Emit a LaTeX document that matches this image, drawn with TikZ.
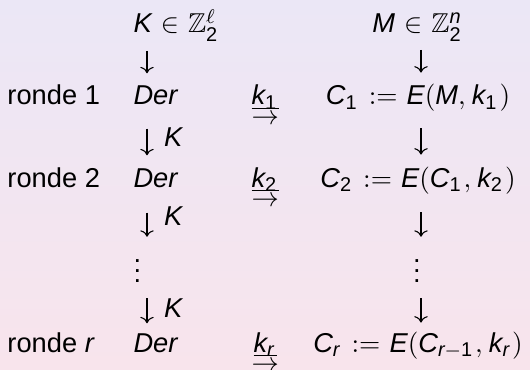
\documentclass[tikz,border=0pt,11pt]{standalone}
\usepackage{amsmath,amssymb}
\usepackage[no-math]{fontspec}
\setmainfont{Liberation Sans}
\newfontfamily\lsans{Liberation Sans}[NFSSFamily=lsans]
% sans letters and digits in maths, symbols stay CM
\DeclareSymbolFont{sfletters}{TU}{lsans}{m}{it}
\DeclareSymbolFont{sfdigits}{TU}{lsans}{m}{n}
\DeclareMathSymbol{C}{\mathalpha}{sfletters}{`C}
\DeclareMathSymbol{D}{\mathalpha}{sfletters}{`D}
\DeclareMathSymbol{E}{\mathalpha}{sfletters}{`E}
\DeclareMathSymbol{K}{\mathalpha}{sfletters}{`K}
\DeclareMathSymbol{M}{\mathalpha}{sfletters}{`M}
\DeclareMathSymbol{e}{\mathalpha}{sfletters}{`e}
\DeclareMathSymbol{k}{\mathalpha}{sfletters}{`k}
\DeclareMathSymbol{n}{\mathalpha}{sfletters}{`n}
\DeclareMathSymbol{r}{\mathalpha}{sfletters}{`r}
\DeclareMathSymbol{1}{\mathalpha}{sfdigits}{`1}
\DeclareMathSymbol{2}{\mathalpha}{sfdigits}{`2}
\usepackage{tikz}
\usetikzlibrary{arrows.meta}
\definecolor{bgtop}{RGB}{235,231,246}
\definecolor{bgbot}{RGB}{248,228,236}
% underlined round key with a small arrow below it
\newcommand{\keyarrow}[1]{\vtop{\baselineskip=8pt \lineskiplimit=-10pt
  \halign{\hfil##\hfil\cr $\underline{\smash[b]{k_{#1}}}$\cr $\rightarrow$\cr}}}

\begin{document}
\begin{tikzpicture}[x=0.4015pt, y=-0.4015pt, lbl/.style={anchor=base west, inner sep=0pt}, mid/.style={anchor=base, inner sep=0pt}, darr/.style={-To, line width=0.44pt},
    every node/.append style={execute at begin node={\thickmuskip=6mu plus 2mu\thinmuskip=4mu\scriptspace=1.2pt}}]
            \shade[top color=bgtop, bottom color=bgbot] (0,0) rectangle (530,370);
            \useasboundingbox (0,0) rectangle (530,370);
            \coordinate (lane) at (147,0);
            \coordinate (rlane) at (421,0);

            \node[lbl] (key) at (133,33) {$K\in\mathbb{Z}_2^{\ell}$};
            \node[mid] (msg) at (418,33) {$M\in\mathbb{Z}_2^{n}$};

            \node[lbl] (r1) at (7,105) {ronde 1};
            \node[lbl] (der1) at (133,105) {$Der$};
            \node[lbl] (k1) at (251,105) {\keyarrow{1}};
            \node[mid] (c1) at (418,105) {$C_1 := E(M,k_1)$};

            \node[lbl] (r2) at (7,187) {ronde 2};
            \node[lbl] (der2) at (133,187) {$Der$};
            \node[lbl] (k2) at (251,187) {\keyarrow{2}};
            \node[mid] (c2) at (418,187) {$C_2 := E(C_1,k_2)$};

            \node[lbl] (vd) at (133,282) {$\vdots$};
            \node[mid] (cvd) at (417,282) {$\vdots$};

            \node[lbl] (rr) at (7,352) {ronde $r$};
            \node[lbl] (derr) at (133,352) {$Der$};
            \node[lbl] (kr) at (251,352) {\keyarrow{r}};
            \node[mid] (cr) at (418,352) {$C_r := E(C_{r-1},k_r)$};

            \path[darr] (key.south -| lane) edge[shorten <=3.6pt, shorten >=5pt] (der1.north -| lane);
            \path[darr] (der1.south -| lane) edge[shorten <=9.2pt, shorten >=5pt] node[right=3pt] {$K$} (der2.north -| lane);
            \path[darr] (der2.south -| lane) edge[shorten <=10pt, shorten >=2.8pt] node[right=3pt] {$K$} (vd.north -| lane);
            \path[darr] (vd.south -| lane) edge[shorten <=6.4pt, shorten >=3.8pt] node[right=3pt] {$K$} (derr.north -| lane);

            \path[darr] (msg.south -| rlane) edge[shorten <=3.2pt, shorten >=4.6pt] (c1.north -| rlane);
            \path[darr] (c1.south -| rlane) edge[shorten <=6.4pt, shorten >=4.6pt] (c2.north -| rlane);
            \path[darr] (c2.south -| rlane) edge[shorten <=7.2pt, shorten >=2.8pt] (cvd.north -| rlane);
            \path[darr] (cvd.south -| rlane) edge[shorten <=6.4pt, shorten >=3.4pt] (cr.north -| rlane);
        \end{tikzpicture}
\end{document}
